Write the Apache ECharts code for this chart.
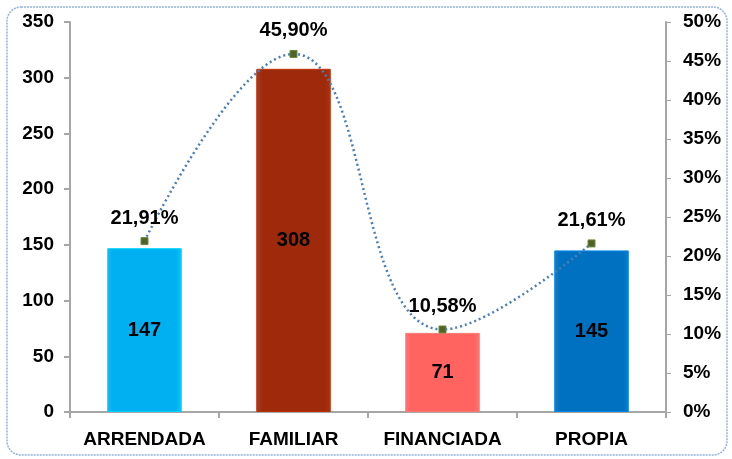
<!DOCTYPE html>
<html lang="es">
<head>
<meta charset="utf-8" />
<title></title>
<script src="https://cdn.jsdelivr.net/npm/echarts@6/dist/echarts.min.js"></script>
<style>
	html,body { margin: 0; padding: 0; background: #FFFFFF; }
	#chart { width: 732px; height: 459px; }
</style>
</head>
<body>
<div id="chart"></div>
<script>
	// datos
	var categorias = ['ARRENDADA', 'FAMILIAR', 'FINANCIADA', 'PROPIA'];
	var cantidades = [147, 308, 71, 145];
	var porcentajes = [21.91, 45.90, 10.58, 21.61];
	var coloresBarra = ['#00B0F0', '#9E2A0B', '#FF6461', '#0070C0'];

	var fuente = 'Liberation Sans, Arial, sans-serif';

	function pct(v) {
		return v.toFixed(2).replace('.', ',') + '%';
	}

	var chart = echarts.init(document.getElementById('chart'));

	var option = {
		animation: false,
		graphic: [{
			type: 'rect',
			shape: { x: 7, y: 7, width: 720, height: 448, r: 14 },
			style: { fill: 'none', stroke: '#8FB4E3', lineWidth: 1.5, lineDash: [2, 1] },
			z: -1
		}],
		grid: { left: 70, right: 66, top: 22, bottom: 47 },
		xAxis: {
			type: 'category',
			data: categorias,
			axisLine: { lineStyle: { color: '#A6A6A6', width: 2 } },
			axisTick: { show: true, interval: 0, alignWithLabel: false, length: 6, lineStyle: { color: '#A6A6A6', width: 2 } },
			axisLabel: { interval: 0, color: '#000', fontWeight: 'bold', fontSize: 19, fontFamily: fuente, margin: 18 }
		},
		yAxis: [{
			type: 'value',
			min: 0, max: 350, interval: 50,
			splitLine: { show: false },
			axisLine: { show: true, lineStyle: { color: '#A6A6A6', width: 2 } },
			axisTick: { show: true, length: 6, lineStyle: { color: '#A6A6A6', width: 2 } },
			axisLabel: { color: '#000', fontWeight: 'bold', fontSize: 19, fontFamily: fuente, margin: 16 }
		}, {
			type: 'value',
			min: 0, max: 50, interval: 5,
			splitLine: { show: false },
			axisLine: { show: true, lineStyle: { color: '#A6A6A6', width: 2 } },
			axisTick: { show: true, length: 5, lineStyle: { color: '#A6A6A6', width: 1 } },
			axisLabel: { color: '#000', fontWeight: 'bold', fontSize: 19, fontFamily: fuente, margin: 17,
				formatter: function (v) { return v + '%'; } }
		}],
		series: [{
			type: 'bar',
			barWidth: '50%',
			yAxisIndex: 0,
			data: cantidades.map(function (v, i) {
				var c = coloresBarra[i];
				return {
					value: v,
					itemStyle: {
						color: {
							type: 'linear', x: 0, y: 0, x2: 1, y2: 0,
							colorStops: [
								{ offset: 0, color: echarts.color.lift(c, 0.1) },
								{ offset: 0.08, color: c },
								{ offset: 0.92, color: c },
								{ offset: 1, color: echarts.color.lift(c, -0.15) }
							]
						},
						borderColor: echarts.color.lift(c, -0.2),
						borderWidth: 1
					}
				};
			}),
			label: {
				show: true, position: 'inside', color: '#000',
				fontWeight: 'bold', fontSize: 20, fontFamily: fuente
			}
		}, {
			type: 'line',
			yAxisIndex: 1,
			data: porcentajes,
			smooth: 0.45,
			symbol: 'rect',
			symbolSize: 7,
			itemStyle: { color: '#4F6228', borderColor: '#6E8B3D', borderWidth: 1 },
			lineStyle: { color: '#4A7EBB', width: 2.5, type: [2, 3] },
			label: {
				show: true, position: 'top', distance: 9, color: '#000',
				fontWeight: 'bold', fontSize: 20, fontFamily: fuente,
				formatter: function (p) { return pct(p.value); }
			},
			z: 5
		}]
	};

	chart.setOption(option);
</script>
</body>
</html>
